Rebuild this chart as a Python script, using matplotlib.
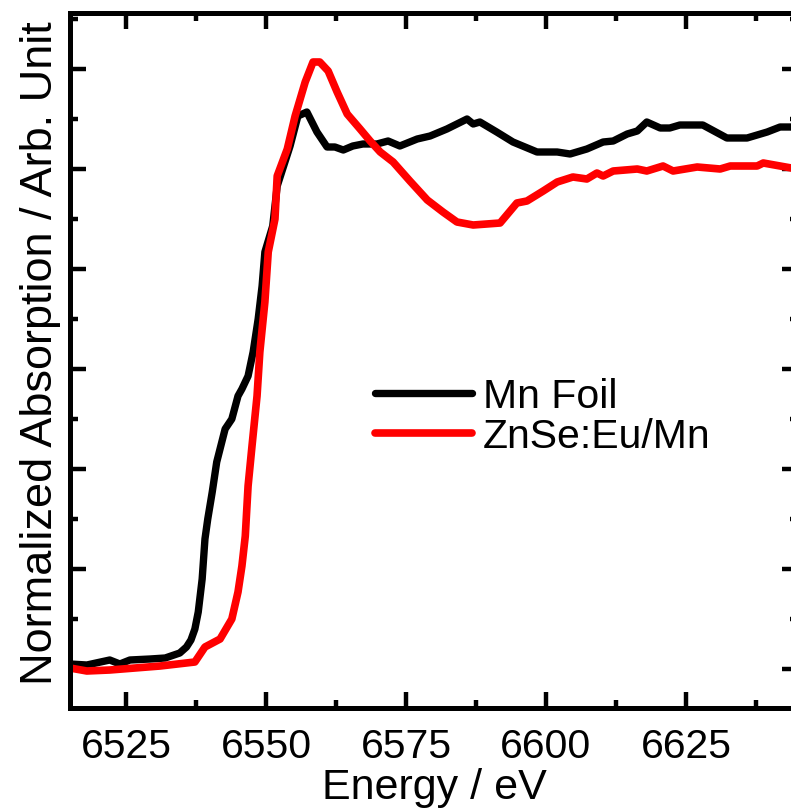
import matplotlib
matplotlib.use("Agg")
import matplotlib.pyplot as plt
import matplotlib.ticker as mticker

# --------- data ---------
mn_energy = [6515.0, 6518.0, 6522.1, 6523.9, 6525.7, 6529.3, 6532.0, 6534.6, 6535.8, 6536.6,
             6537.3, 6537.9, 6538.6, 6539.1, 6539.6, 6540.4, 6541.2, 6542.7, 6543.9, 6545.0,
             6545.7, 6546.8, 6547.7, 6548.6, 6549.3, 6549.8, 6551.2, 6552.0, 6554.3, 6555.7,
             6557.3, 6559.1, 6560.9, 6562.3, 6563.8, 6565.5, 6567.3, 6569.8, 6571.8, 6573.9,
             6577.0, 6579.3, 6582.3, 6585.9, 6587.0, 6588.2, 6591.2, 6594.1, 6598.4, 6602.0,
             6604.3, 6607.3, 6610.2, 6612.0, 6614.5, 6616.3, 6618.0, 6620.4, 6622.1, 6623.9,
             6628.0, 6632.3, 6635.9, 6639.5, 6641.8, 6643.8, 6645.0]
mn_absorption = [0.010, 0.008, 0.018, 0.010, 0.018, 0.020, 0.022, 0.032, 0.044, 0.058,
                 0.080, 0.114, 0.180, 0.260, 0.300, 0.354, 0.414, 0.480, 0.500, 0.546,
                 0.560, 0.586, 0.634, 0.700, 0.766, 0.834, 0.886, 0.966, 1.046, 1.106,
                 1.114, 1.074, 1.044, 1.044, 1.038, 1.046, 1.050, 1.050, 1.056, 1.046,
                 1.060, 1.066, 1.080, 1.100, 1.090, 1.094, 1.074, 1.054, 1.034, 1.034,
                 1.030, 1.040, 1.054, 1.056, 1.070, 1.076, 1.094, 1.082, 1.082, 1.088,
                 1.088, 1.062, 1.062, 1.074, 1.084, 1.084, 1.080]

znse_energy = [6515.0, 6518.0, 6522.1, 6531.1, 6537.3, 6539.1, 6541.8, 6543.9, 6545.0, 6545.7,
               6546.3, 6546.8, 6547.5, 6548.4, 6548.9, 6549.8, 6550.4, 6551.6, 6552.0, 6553.8,
               6555.2, 6557.0, 6558.4, 6559.6, 6561.1, 6562.7, 6564.5, 6566.8, 6568.6, 6570.4,
               6572.7, 6575.7, 6578.8, 6581.6, 6584.1, 6587.0, 6591.8, 6594.8, 6596.6, 6599.5,
               6602.0, 6604.8, 6607.3, 6609.1, 6610.2, 6612.0, 6616.3, 6618.0, 6620.9, 6622.7,
               6627.0, 6631.1, 6632.9, 6637.7, 6638.8, 6643.8, 6645.0]
znse_absorption = [0.002, -0.004, -0.002, 0.006, 0.014, 0.044, 0.060, 0.100, 0.154, 0.206,
                   0.266, 0.366, 0.446, 0.546, 0.634, 0.734, 0.834, 0.900, 0.986, 1.040,
                   1.106, 1.174, 1.214, 1.214, 1.196, 1.154, 1.110, 1.080, 1.056, 1.034,
                   1.014, 0.976, 0.938, 0.914, 0.894, 0.888, 0.892, 0.932, 0.936, 0.956,
                   0.974, 0.984, 0.980, 0.992, 0.986, 0.996, 1.000, 0.996, 1.006, 0.996,
                   1.004, 1.000, 1.006, 1.006, 1.012, 1.002, 1.000]

series_labels = ["Mn Foil", "ZnSe:Eu/Mn"]
x_ticks = [6525, 6550, 6575, 6600, 6625]

plt.rcParams["font.family"] = ["Liberation Sans", "DejaVu Sans"]

fig = plt.figure(figsize=(7.91, 8.12), dpi=100)
ax = fig.add_axes([70 / 791, 103.5 / 812, 728 / 791, 694.5 / 812])

ax.plot(mn_energy, mn_absorption, color="black", lw=5.3,
        solid_capstyle="round", solid_joinstyle="round", label=series_labels[0])
ax.plot(znse_energy, znse_absorption, color="#ff0000", lw=5.5,
        solid_capstyle="round", solid_joinstyle="round", label=series_labels[1])

ax.set_xlim(6515, 6645)
ax.set_ylim(-0.077, 1.312)

ax.xaxis.set_major_locator(mticker.FixedLocator(x_ticks))
ax.xaxis.set_minor_locator(mticker.MultipleLocator(12.5))
ax.yaxis.set_major_locator(mticker.MultipleLocator(0.2))
ax.yaxis.set_minor_locator(mticker.MultipleLocator(0.1))

for s in ax.spines.values():
    s.set_linewidth(3.6)

ax.tick_params(which="both", direction="in", top=True, right=True, width=3.2,
               labelleft=False, labelsize=29.5, pad=14)
ax.tick_params(which="major", length=11.5)
ax.tick_params(which="minor", length=6)

ax.set_xlabel("Energy / eV", fontsize=31, labelpad=1.5)
ax.set_ylabel("Normalized Absorption / Arb. Unit", fontsize=32.5)
ax.yaxis.set_label_coords(-0.013, 0.511)

leg = ax.legend(loc="center left", bbox_to_anchor=(0.419, 0.4195), frameon=False,
                fontsize=29.5, handlelength=2.37, handletextpad=0.27,
                borderpad=0, borderaxespad=0, labelspacing=0.05)

fig.savefig("out.png", dpi=100)
